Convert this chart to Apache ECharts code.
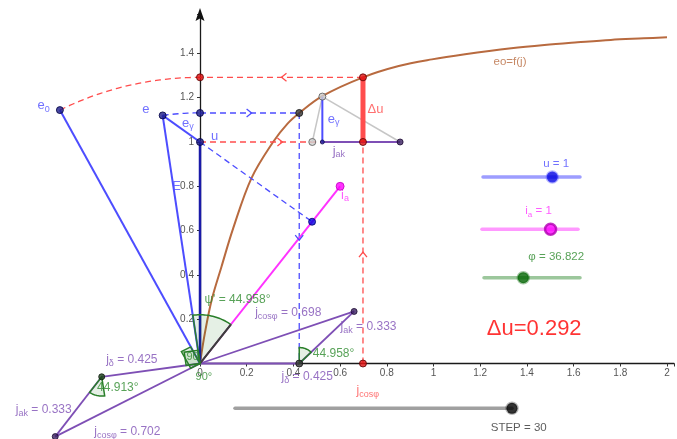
<!DOCTYPE html>
<html>
<head>
<meta charset="utf-8">
<script src="https://cdn.jsdelivr.net/npm/echarts@6/dist/echarts.min.js"></script>
<style>
  html, body { margin: 0; padding: 0; background: #fff; }
  #chart { width: 677px; height: 439px; }
</style>
</head>
<body>
<div id="chart"></div>
<script>
// ---------- slider values ----------
const uVal = 1;
const iaVal = 1;
const phiVal = 36.822;
const stepVal = 30;
const sliderMax = [1.4, 1.4, 90, 30];          // u, i_a, phi, STEP

// ---------- stated results ----------
const deltaU = 0.292;
const jDelta = 0.425;
const jAk = 0.333;
const jCosRight = 0.698;
const jCosLeft = 0.702;
const psiDeg = 44.958;
const angRightDeg = 44.958;
const angLeftDeg = 44.913;

// ---------- open-circuit characteristic eo = f(j) ----------
const curveJ = [0, 0.021, 0.05, 0.092, 0.142, 0.22, 0.313, 0.376, 0.4255, 0.525, 0.698,
                0.851, 0.993, 1.135, 1.333, 1.475, 1.617, 1.759, 1.901, 2.0];
const curveE = [0, 0.138, 0.287, 0.437, 0.61, 0.836, 1.0, 1.084, 1.131, 1.208, 1.292,
                1.343, 1.373, 1.396, 1.423, 1.438, 1.450, 1.461, 1.468, 1.473];

// ---------- phasor points (diagram units) ----------
const pO = [0, 0];
const pU = [0, uVal];
const pE = [-0.16, 1.12];
const pE0 = [-0.6, 1.144];
const pIa = [0.6, 0.8];
const pFoot = [0.48, 0.64];
const pEAxis = [0, 1.131];
const pECurve = [jDelta, 1.131];
const pTopAxis = [0, uVal + deltaU];
const pTopCurve = [jCosRight, uVal + deltaU];
const pDuBase = [jCosRight, uVal];
const pJcos = [jCosRight, 0];
const pJd = [jDelta, 0];
const pAkEnd = [0.66, 0.235];
const pJdL = [-0.421, -0.06];
const pAkEndL = [-0.62, -0.33];
const pTriTop = [0.524, 1.205];
const pTriFoot = [0.524, uVal];
const pTriEnd = [0.857, uVal];
const pTriGray = [0.481, uVal];

// ---------- direction marks on the dashed paths: [x, y, direction deg] ----------
const redMarks = [[0.349, uVal + deltaU, 180], [0.353, uVal, 0], [jCosRight, 0.503, 90]];
const blueMarks = [[0.221, 1.131, 0], [jDelta, 0.557, -90]];

const FONT = 'Liberation Sans, Arial, sans-serif';
const COL = {
  blue: '#4d4dff', navy: '#1a1aa8', purple: '#7e4fb5', green: '#2e8b2e',
  magenta: '#ff33ff', red: '#ff4d4d', brown: '#b86a3f', gray: '#c6c6c6',
  pure: '#ff0000', dark: '#333333'
};

const series = [];
const base = { xAxisIndex: 0, yAxisIndex: 0, clip: false, silent: true, animation: false };

function custom(render) {
  series.push(Object.assign({
    type: 'custom', data: [[0, 0]],
    renderItem: function (params, api) { return { type: 'group', children: render(api) }; }
  }, base));
}

// straight segments, projected through the cartesian axes
function seg(points, color, width, dashed) {
  custom(function (api) {
    return [{ type: 'polyline', shape: { points: points.map(p => api.coord(p)) },
      style: { stroke: color, lineWidth: width, lineDash: dashed ? [6, 4] : null, fill: 'none' } }];
  });
}

function deg(p, q) {
  const from = q ? p : [0, 0], to = q || p;
  return Math.atan2(to[1] - from[1], to[0] - from[0]) * 180 / Math.PI;
}

// arc of a circle of radius r (diagram units) around c
function arcPts(api, c, r, a0, a1, n) {
  const p = api.coord(c), s = api.size([r, r]);
  const out = [];
  for (let i = 0; i <= n; i++) {
    const a = (a0 + (a1 - a0) * i / n) * Math.PI / 180;
    out.push([p[0] + s[0] * Math.cos(a), p[1] - s[1] * Math.sin(a)]);
  }
  return out;
}

// ---- curve ----
custom(function (api) {
  return [{ type: 'polyline',
    shape: { points: curveJ.map((j, i) => api.coord([j, curveE[i]])), smooth: 0.35 },
    style: { stroke: COL.brown, lineWidth: 2, fill: 'none' } }];
});

// ---- dashed construction lines ----
seg([pTopCurve, pTopAxis], COL.red, 1.3, true);
seg([pU, pDuBase], COL.red, 1.3, true);
seg([pJcos, pTopCurve], COL.red, 1.3, true);
seg([pEAxis, pECurve], COL.blue, 1.3, true);
seg([pECurve, pJd], COL.blue, 1.3, true);
seg([pU, pFoot], COL.blue, 1.3, true);

custom(function (api) {
  const rE0 = Math.hypot(pE0[0], pE0[1]);
  const rE = Math.hypot(pE[0], pE[1]);
  return [
    { type: 'polyline', shape: { points: arcPts(api, pO, rE0, deg(pE0), 90, 40) },
      style: { stroke: COL.red, lineWidth: 1.3, lineDash: [6, 4], fill: 'none' } },
    { type: 'polyline', shape: { points: arcPts(api, pO, rE, deg(pE), 90, 12) },
      style: { stroke: COL.blue, lineWidth: 1.3, lineDash: [6, 4], fill: 'none' } }
  ];
});

// ---- solid phasors ----
seg([pO, pE0], COL.blue, 2);
seg([pO, pE], COL.blue, 2);
seg([pE, pU], COL.blue, 2);
seg([pO, pU], COL.navy, 2.5);
seg([pO, pIa], COL.magenta, 2);
seg([pTriGray, pTriTop], COL.gray, 1.5);
seg([pTriTop, pTriEnd], COL.gray, 1.5);
seg([pTriFoot, pTriTop], COL.blue, 2);
seg([pTriFoot, pTriEnd], COL.purple, 2);
seg([pO, pJd], COL.purple, 2);
seg([pJd, pAkEnd], COL.purple, 1.8);
seg([pO, pAkEnd], COL.purple, 1.8);
seg([pO, pJdL], COL.purple, 1.8);
seg([pJdL, pAkEndL], COL.purple, 1.8);
seg([pO, pAkEndL], COL.purple, 1.8);

// ---- angle sectors and right-angle marks ----
custom(function (api) {
  const fill = 'rgba(0,110,0,0.1)', stroke = '#2a7f2a';
  function sector(c, r, a0, a1, darkEdge) {
    const c0 = api.coord(c);
    const arc = arcPts(api, c, r, a0, a1, 24);
    const els = [{ type: 'polygon', shape: { points: [c0].concat(arc) },
      style: { fill: fill, stroke: stroke, lineWidth: 1.5 } }];
    if (darkEdge) els.push({ type: 'polyline', shape: { points: [c0, arc[arc.length - 1]] },
      style: { stroke: '#3d3d3d', lineWidth: 2, fill: 'none' } });
    return els;
  }
  function rect(c, u1, a1, u2, a2) {
    const n1 = Math.hypot(u1[0], u1[1]), n2 = Math.hypot(u2[0], u2[1]);
    const v1 = [u1[0] / n1 * a1, u1[1] / n1 * a1], v2 = [u2[0] / n2 * a2, u2[1] / n2 * a2];
    const pts = [c, [c[0] + v1[0], c[1] + v1[1]], [c[0] + v1[0] + v2[0], c[1] + v1[1] + v2[1]],
                 [c[0] + v2[0], c[1] + v2[1]]].map(q => api.coord(q));
    return { type: 'polygon', shape: { points: pts }, style: { fill: fill, stroke: stroke, lineWidth: 1.5 } };
  }
  const aIa = deg(pIa);
  const aAkL = deg(pJdL, pAkEndL);
  const perpL = [pAkEndL[1], -pAkEndL[0]];
  return []
    .concat(sector(pO, 0.22, aIa + psiDeg, aIa, true))
    .concat(sector(pJd, 0.072, 90, 90 - angRightDeg, false))
    .concat(sector(pJdL, 0.087, aAkL + angLeftDeg, aAkL, false))
    .concat([rect(pO, pE, 0.06, pJdL, 0.06), rect(pO, pAkEndL, 0.045, perpL, 0.085)]);
});

// ---- voltage drop bar ----
seg([pDuBase, pTopCurve], COL.red, 5);

// ---- direction marks and the axis arrow ----
custom(function (api) {
  function mark(m, color) {
    const p = api.coord([m[0], m[1]]);
    const a = m[2] * Math.PI / 180, dx = Math.cos(a), dy = -Math.sin(a), nx = -dy, ny = dx;
    const L = 5, W = 4;
    return { type: 'polyline',
      shape: { points: [[p[0] - L * dx + W * nx, p[1] - L * dy + W * ny], [p[0], p[1]],
                        [p[0] - L * dx - W * nx, p[1] - L * dy - W * ny]] },
      style: { stroke: color, lineWidth: 1.3, fill: 'none' } };
  }
  const top = api.coord([0, option.yAxis[0].max]);
  const arrow = { type: 'polygon',
    shape: { points: [[top[0], top[1] - 6.5], [top[0] - 4.5, top[1] + 6.5], [top[0], top[1] + 4],
                      [top[0] + 4.5, top[1] + 6.5]] },
    style: { fill: '#111111' } };
  return redMarks.map(m => mark(m, COL.red)).concat(blueMarks.map(m => mark(m, COL.blue)), [arrow]);
});

// ---- points ----
function dots(points, fill, border, size) {
  series.push(Object.assign({
    type: 'scatter', data: points, symbol: 'circle', symbolSize: size,
    itemStyle: { color: fill, borderColor: border, borderWidth: 1 }, z: 4
  }, base));
}
dots([pE0, pE, pEAxis, pU], '#1c1c8a', '#000040', 7);
dots([pECurve, pJd], '#333333', '#111111', 7);
dots([pTopAxis, pTopCurve, pDuBase, pJcos], '#e01010', '#5a0000', 7);
dots([pTriTop, pTriGray], '#cfcfcf', '#555555', 7);
dots([pFoot], '#0000dd', '#000070', 7);
dots([pIa], '#ff00ff', '#c000c0', 8);
dots([pTriEnd, pAkEnd, pAkEndL], '#3a2060', '#1a0830', 6);
dots([pJdL], '#1e3d1e', '#0a1a0a', 6);
dots([pTriFoot], '#2020a0', '#101050', 4);

// ---- sliders ----
const sliderVals = [uVal, iaVal, phiVal, stepVal];
const sliderStyle = [
  { line: '#9d9dff', knob: '#0000e0', halo: 'rgba(60,60,255,0.45)' },
  { line: '#ff99ff', knob: '#ff00ff', halo: '#b000b0' },
  { line: '#9cc79c', knob: '#006400', halo: 'rgba(0,100,0,0.45)' },
  { line: '#a0a0a0', knob: '#000000', halo: 'rgba(0,0,0,0.35)' }
];
const sliderGrids = [
  { left: 483, width: 97, top: 172, height: 10 },
  { left: 482, width: 96, top: 224.3, height: 10 },
  { left: 484, width: 96, top: 272.7, height: 10 },
  { left: 235, width: 277, top: 403.3, height: 10 }
];
sliderVals.forEach(function (v, i) {
  series.push({ type: 'line', xAxisIndex: i + 1, yAxisIndex: i + 1, silent: true, animation: false,
    data: [[0, 0], [sliderMax[i], 0]], symbol: 'none',
    lineStyle: { color: sliderStyle[i].line, width: 3.5, cap: 'round' } });
  series.push({ type: 'scatter', xAxisIndex: i + 1, yAxisIndex: i + 1, silent: true, animation: false,
    data: [[v, 0]], symbolSize: 11, z: 4,
    itemStyle: { color: sliderStyle[i].knob, borderColor: sliderStyle[i].halo, borderWidth: 2.5 } });
});

// ---- text ----
// [x, y, tokens, colour, font size]; a token [text, 1] is a subscript
const texts = [
  [-0.698, 1.163, [['e'], ['0', 1]], COL.blue, 13],
  [-0.249, 1.147, [['e']], COL.blue, 13],
  [-0.079, 1.084, [['e'], ['γ', 1]], COL.blue, 13],
  [0.045, 1.025, [['u']], COL.blue, 13],
  [-0.121, 0.801, [['E']], COL.blue, 13],
  [0.545, 1.102, [['e'], ['γ', 1]], COL.blue, 13],
  [0.715, 1.149, [['Δu']], COL.red, 13],
  [0.566, 0.959, [['j'], ['ak', 1]], COL.purple, 13],
  [1.255, 1.363, [['eo=f(j)']], COL.brown, 11.5],
  [0.602, 0.761, [['i'], ['a', 1]], COL.magenta, 13],
  [0.017, 0.287, [["ψ' = " + psiDeg + '°']], COL.green, 12],
  [0.234, 0.230, [['j'], ['cosφ', 1], [' = ' + jCosRight]], COL.purple, 12],
  [0.600, 0.165, [['j'], ['ak', 1], [' = ' + jAk]], COL.purple, 12],
  [0.481, 0.043, [[angRightDeg + '°']], COL.green, 12],
  [0.347, -0.061, [['j'], ['δ', 1], [' = ' + jDelta]], COL.purple, 12],
  [-0.404, 0.016, [['j'], ['δ', 1], [' = ' + jDelta]], COL.purple, 12],
  [-0.443, -0.108, [[angLeftDeg + '°']], COL.green, 12],
  [-0.791, -0.210, [['j'], ['ak', 1], [' = ' + jAk]], COL.purple, 12],
  [-0.455, -0.309, [['j'], ['cosφ', 1], [' = ' + jCosLeft]], COL.purple, 12],
  [0.668, -0.124, [['j'], ['cosφ', 1]], COL.red, 12],
  [-0.060, 0.029, [['90']], COL.green, 11],
  [-0.021, -0.061, [['90°']], COL.green, 11],
  [1.468, 0.901, [['u = ' + uVal]], COL.blue, 11.5],
  [1.391, 0.688, [['i'], ['a', 1], [' = ' + iaVal]], COL.magenta, 11.5],
  [1.404, 0.481, [['φ = ' + phiVal]], COL.green, 11.5],
  [1.243, -0.291, [['STEP = ' + stepVal]], COL.dark, 11.5],
  [1.226, 0.156, [['Δu=' + deltaU]], COL.pure, 22]
];
series.push(Object.assign({
  type: 'scatter', symbol: 'circle', symbolSize: 1, z: 6,
  itemStyle: { color: 'rgba(0,0,0,0)' },
  data: texts.map(function (t) {
    const color = t[3], fs = t[4];
    const str = t[2].map(k => '{' + (k[1] ? 's' : 'm') + '|' + k[0] + '}').join('');
    return {
      value: [t[0], t[1]],
      label: {
        show: true, position: 'right', distance: 0, align: 'left', verticalAlign: 'middle',
        color: color, fontSize: fs, fontFamily: FONT,
        formatter: function () { return str; },
        rich: {
          m: { fontSize: fs, color: color, fontFamily: FONT, verticalAlign: 'middle' },
          s: { fontSize: Math.round(fs * 0.72), color: color, fontFamily: FONT,
               verticalAlign: 'middle', padding: [7, 0, 0, 0] }
        }
      }
    };
  })
}, base));

// ---- axes ----
function tickText(v, allowZero) {
  const k = Math.round(v / 0.2);
  if (Math.abs(v - k * 0.2) > 1e-6) return '';
  if (k === 0 && !allowZero) return '';
  return String(Math.round(k * 2) / 10);
}
const axisLabel = { fontSize: 10, color: '#555', fontFamily: FONT };

const option = {
  backgroundColor: '#ffffff',
  animation: false,
  grid: [{ left: 200, top: 14.5, right: 0, bottom: 75.5 }].concat(sliderGrids),
  xAxis: [{
    gridIndex: 0, type: 'value', min: 0, max: 2.03, interval: 0.2,
    axisLine: { onZero: false, lineStyle: { color: '#1a1a1a', width: 1.3 } },
    axisTick: { length: 3, lineStyle: { color: '#333' } },
    axisLabel: Object.assign({ margin: 5, formatter: v => tickText(v, true) }, axisLabel),
    splitLine: { show: false }
  }].concat(sliderMax.map((m, i) => ({ gridIndex: i + 1, type: 'value', min: 0, max: m, show: false }))),
  yAxis: [{
    gridIndex: 0, type: 'value', min: 0, max: 1.5756, interval: 0.2,
    axisLine: { onZero: false, lineStyle: { color: '#1a1a1a', width: 1.3 } },
    axisTick: { length: 3, lineStyle: { color: '#333' } },
    axisLabel: Object.assign({ margin: 6, formatter: v => tickText(v, false) }, axisLabel),
    splitLine: { show: false }
  }].concat(sliderMax.map((m, i) => ({ gridIndex: i + 1, type: 'value', min: -1, max: 1, show: false }))),
  series: series
};

const chart = echarts.init(document.getElementById('chart'));
chart.setOption(option);
</script>
</body>
</html>
